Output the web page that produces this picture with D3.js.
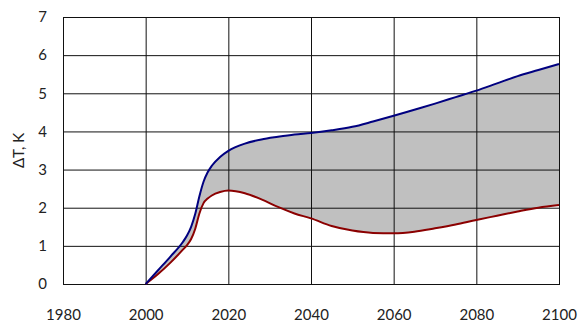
<!DOCTYPE html>
<html lang="en">
<head>
  <meta charset="UTF-8">
  <title>Delta T</title>
  <script src="https://cdn.jsdelivr.net/npm/d3@7"></script>
  <style>
    body { margin: 0; background: #fff; }
    svg { display: block; }
    text, .tick text { font-family: Lato, "Open Sans", sans-serif; font-size: 15px; fill: #222; }
  </style>
</head>
<body>
  <div id="chart"></div>
  <script>
    const years = [2000, 2003, 2006, 2009, 2010, 2011, 2012, 2013, 2014, 2015, 2016, 2018, 2020,
      2024, 2028, 2032, 2036, 2040, 2045, 2050, 2055, 2060, 2065, 2070, 2075, 2080,
      2085, 2090, 2095, 2100]
    const upper = [0, 0.36, 0.72, 1.1, 1.27, 1.5, 1.84, 2.3, 2.68, 2.93, 3.1, 3.33, 3.49,
      3.68, 3.79, 3.86, 3.92, 3.96, 4.03, 4.12, 4.26, 4.41, 4.57, 4.73, 4.90, 5.07,
      5.26, 5.45, 5.61, 5.77]
    const lower = [0, 0.26, 0.56, 0.9, 1.02, 1.18, 1.45, 1.85, 2.12, 2.24, 2.32, 2.41, 2.45,
      2.38, 2.22, 2.02, 1.85, 1.72, 1.52, 1.40, 1.34, 1.33, 1.37, 1.46, 1.56, 1.68,
      1.79, 1.90, 2.00, 2.07]
    const xTicks = [1980, 2000, 2020, 2040, 2060, 2080, 2100]
    const yTicks = [0, 1, 2, 3, 4, 5, 6, 7]

    const width = 579
    const height = 324
    const margin = { top: 17, right: 20, bottom: 40, left: 63 }
    const w = width - margin.left - margin.right
    const h = height - margin.top - margin.bottom

    const data = years.map((y, i) => ({ year: y, hi: upper[i], lo: lower[i] }))

    const svg = d3.select('#chart').append('svg')
      .attr('width', width)
      .attr('height', height)

    const g = svg.append('g')
      .attr('transform', `translate(${margin.left},${margin.top})`)

    const x = d3.scaleLinear().domain([1980, 2100]).range([0, w])
    const y = d3.scaleLinear().domain([0, 7]).range([h, 0])

    // shaded band between the two curves
    g.append('path')
      .datum(data)
      .attr('fill', '#c0c0c0')
      .attr('d', d3.area()
        .x(d => x(d.year))
        .y0(d => y(d.lo))
        .y1(d => y(d.hi))
        .curve(d3.curveMonotoneX))

    const yAxis = g.append('g')
      .call(d3.axisLeft(y).tickValues(yTicks).tickFormat(d3.format('d')).tickSize(-w).tickPadding(16))
    yAxis.select('.domain').remove()
    yAxis.selectAll('line').attr('stroke', '#111')

    const xAxis = g.append('g')
      .attr('transform', `translate(0,${h})`)
      .call(d3.axisBottom(x).tickValues(xTicks).tickFormat(d3.format('d')).tickSize(-h).tickPadding(25))
    xAxis.select('.domain').remove()
    xAxis.selectAll('line').attr('stroke', '#111')

    g.append('rect')
      .attr('x', 0.5).attr('y', 0.5)
      .attr('width', w).attr('height', h)
      .attr('fill', 'none')
      .attr('stroke', '#111')

    const line = key => d3.line()
      .x(d => x(d.year))
      .y(d => y(d[key]))
      .curve(d3.curveMonotoneX)

    g.append('path')
      .datum(data)
      .attr('fill', 'none')
      .attr('stroke', '#8b0000')
      .attr('stroke-width', 2)
      .attr('d', line('lo'))

    g.append('path')
      .datum(data)
      .attr('fill', 'none')
      .attr('stroke', '#000080')
      .attr('stroke-width', 2)
      .attr('d', line('hi'))

    svg.append('text')
      .attr('transform', `translate(24,${margin.top + h / 2}) rotate(-90)`)
      .attr('text-anchor', 'middle')
      .text('ΔT, K')
  </script>
</body>
</html>
